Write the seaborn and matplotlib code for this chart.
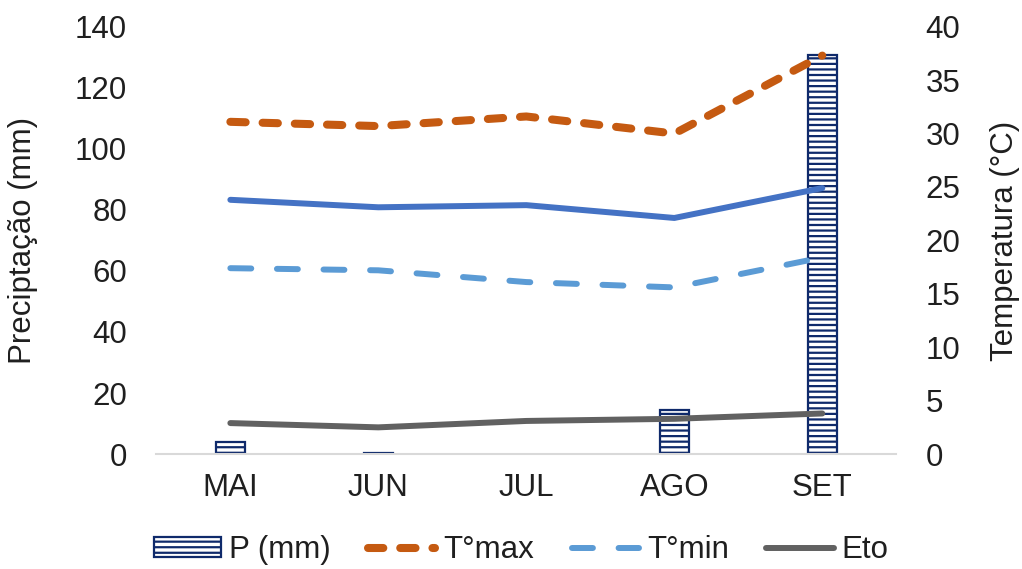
import numpy as np
import pandas as pd
import matplotlib
matplotlib.use("Agg")
import matplotlib.pyplot as plt
import seaborn as sns
from matplotlib.lines import Line2D
from matplotlib.patches import Patch

months = ["MAI", "JUN", "JUL", "AGO", "SET"]
precip = [3.8, 0.5, 0.0, 14.4, 130.8]      # P (mm)
t_max = [31.1, 30.7, 31.6, 30.0, 37.3]     # T°max (°C)
t_med = [23.8, 23.1, 23.3, 22.1, 24.9]     # mean temperature (°C)
t_min = [17.4, 17.2, 16.1, 15.6, 18.4]     # T°min (°C)
eto = [2.9, 2.5, 3.1, 3.3, 3.8]            # Eto

sns.set_theme(style="white")
plt.rcParams["font.family"] = ["Liberation Sans", "DejaVu Sans"]
plt.rcParams["hatch.linewidth"] = 1.6
plt.rcParams["hatch.color"] = "#0F2A6B"

navy = "#0F2A6B"
c_max = "#C55A11"
c_med = "#4472C4"
c_min = "#5B9BD5"
c_eto = "#616161"
txt = "#1F1F1F"

fig = plt.figure(figsize=(10.22, 5.69), dpi=100)
ax = fig.add_axes([0.153, 0.202, 0.724, 0.751])
ax2 = ax.twinx()

df_p = pd.DataFrame({"mes": months, "P": precip})
df_p = df_p[df_p["P"] > 0]
sns.barplot(data=df_p, x="mes", y="P", order=months, ax=ax, width=0.2,
            color="white", edgecolor=navy, linewidth=1.6, hatch="---",
            saturation=1)

xpos = np.arange(len(months))
df_t = pd.DataFrame({"x": xpos, "tmax": t_max, "tmed": t_med,
                     "tmin": t_min, "eto": eto})

lw_max = 5.8
lw = 4.3
dash_max = (0, (1.9, 2.1))
dash_min = (0, (3.5, 4.3))
sns.lineplot(data=df_t, x="x", y="tmax", ax=ax2, color=c_max, lw=lw_max)
ax2.lines[-1].set_linestyle(dash_max)
ax2.lines[-1].set_dash_capstyle("round")
sns.lineplot(data=df_t, x="x", y="tmed", ax=ax2, color=c_med, lw=lw,
             solid_capstyle="round")
sns.lineplot(data=df_t, x="x", y="tmin", ax=ax2, color=c_min, lw=lw)
ax2.lines[-1].set_linestyle(dash_min)
ax2.lines[-1].set_dash_capstyle("round")
sns.lineplot(data=df_t, x="x", y="eto", ax=ax2, color=c_eto, lw=lw,
             solid_capstyle="round")

ax.set_xlim(-0.5, len(months) - 0.5)
ax.set_ylim(0, 140)
ax.set_yticks(np.arange(0, 141, 20))
ax2.set_ylim(0, 40)
ax2.set_yticks(np.arange(0, 41, 5))

fs = 22.5
ax.set_xlabel("")
ax2.set_xlabel("")
ax.set_ylabel("Preciptação (mm)", fontsize=fs, color=txt)
ax2.set_ylabel("Temperatura (°C)", fontsize=fs, color=txt)
ax.yaxis.set_label_coords(-0.1595, 0.5)
ax2.yaxis.set_label_coords(1.127, 0.5)
ax.set_xticks(xpos)
ax.set_xticklabels(months)
ax.tick_params(axis="x", labelsize=fs, colors=txt, length=0, pad=13.5)
ax.tick_params(axis="y", labelsize=fs, colors=txt, length=0, pad=21)
ax2.tick_params(axis="y", labelsize=fs, colors=txt, length=0, pad=21)

for a in (ax, ax2):
    for s in a.spines.values():
        s.set_visible(False)
ax.spines["bottom"].set_visible(True)
ax.spines["bottom"].set_color("#D9D9D9")
ax.spines["bottom"].set_linewidth(1.5)
ax.grid(False)
ax2.grid(False)

handles = [
    Patch(facecolor="white", edgecolor=navy, hatch="---", linewidth=1.6),
    Line2D([], [], color=c_max, lw=lw_max, linestyle=dash_max,
           dash_capstyle="round"),
    Line2D([], [], color=c_min, lw=lw, linestyle=dash_min,
           dash_capstyle="round"),
    Line2D([], [], color=c_eto, lw=lw, solid_capstyle="round"),
]
labels = ["P (mm)", "T°max", "T°min", "Eto"]
leg = fig.legend(handles, labels, loc="center", bbox_to_anchor=(0.51, 0.033),
                 ncol=4, frameon=False, fontsize=fs, handlelength=2.15,
                 handleheight=0.6, handletextpad=0.26, columnspacing=1.2)
for t in leg.get_texts():
    t.set_color(txt)

fig.savefig("out.png", dpi=100)
